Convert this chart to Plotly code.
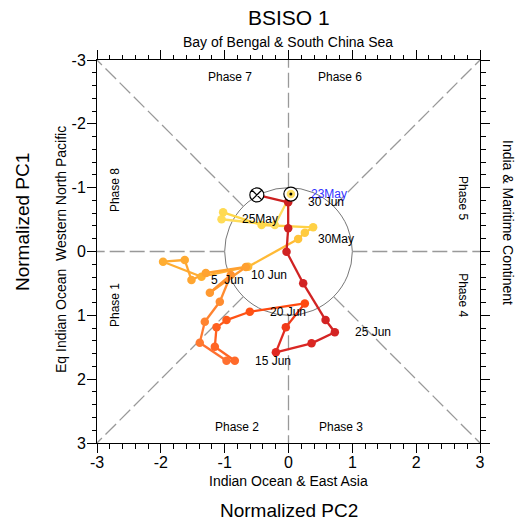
import plotly.graph_objects as go

# ---------------- data ----------------
pc2 = [0.037, -0.214, -1.049, -1.024, -0.422, 0.386, 0.256, 0.151, -0.632, -1.363,
       -1.965, -1.625, -1.520, -1.295, -0.668, -1.232, -0.904, -1.076, -1.311, -1.390,
       -0.971, -0.841, -1.154, -1.128, -0.971, -0.606, 0.256, -0.042, -0.198, 0.361,
       0.726, 0.581, 0.230, -0.031, -0.005, -0.005, -0.496]
pc1 = [-0.900, -0.415, -0.505, -0.614, -0.415, -0.379, -0.295, -0.196, 0.238, 0.395,
       0.160, 0.133, 0.447, 0.337, 0.243, 0.646, 0.368, 0.787, 1.100, 1.429,
       1.712, 1.712, 1.492, 1.188, 1.074, 0.944, 0.813, 1.188, 1.580, 1.439,
       1.266, 1.074, 0.498, 0.003, -0.364, -0.771, -0.886]

date_labels = ["23May", "25May", "30May", "5\u00a0\u00a0Jun", "10 Jun", "15 Jun", "20 Jun", "25 Jun", "30 Jun"]
date_index = [0, 2, 7, 12, 16, 21, 25, 30, 35]

tick_vals = [-3, -2, -1, 0, 1, 2, 3]
tick_text = ["-3", "-2", "-1", "0", "1", "2", "3"]

phase_names = ["Phase 1", "Phase 2", "Phase 3", "Phase 4", "Phase 5", "Phase 6", "Phase 7", "Phase 8"]
phase_x = [-2.72, -0.80, 0.82, 2.73, 2.73, 0.81, -0.92, -2.72]
phase_y = [0.84, 2.75, 2.75, 0.68, -0.84, -2.73, -2.73, -0.96]
phase_angle = [-90, 0, 0, 90, 90, 0, 0, -90]

# colour ramp anchors (index -> colour)
ramp_idx = [0, 4, 7, 9, 14, 17, 20, 24, 26, 28, 30, 36]
ramp_col = ["#FFE066", "#FFD84A", "#FFC43A", "#FFB032", "#FFA030", "#FF8C30",
            "#FF7030", "#FF5A1A", "#FF4A10", "#E02A22", "#D42424", "#CC2020"]


def hex2rgb(h):
    h = h.lstrip("#")
    return [int(h[i:i + 2], 16) for i in (0, 2, 4)]


def colour_at(i):
    for k in range(len(ramp_idx) - 1):
        a, b = ramp_idx[k], ramp_idx[k + 1]
        if a <= i <= b:
            t = (i - a) / (b - a) if b > a else 0
            ca, cb = hex2rgb(ramp_col[k]), hex2rgb(ramp_col[k + 1])
            c = [round(ca[j] + (cb[j] - ca[j]) * t) for j in range(3)]
            return "rgb(%d,%d,%d)" % tuple(c)
    return ramp_col[-1]


n = len(pc2)
cols = [colour_at(i) for i in range(n)]

# ---------------- layout geometry ----------------
W, H = 518, 522
L, R, T, B = 97, 480, 60, 443


def px(xp):
    return (xp - L) / (R - L)


def py(yp):
    return (B - yp) / (B - T)


fig = go.Figure()

# trajectory segments
for i in range(n - 1):
    fig.add_trace(go.Scatter(x=[pc2[i], pc2[i + 1]], y=[pc1[i], pc1[i + 1]], mode="lines",
                             line=dict(color=cols[i + 1], width=2.3), showlegend=False,
                             hoverinfo="skip"))

# point markers
fig.add_trace(go.Scatter(x=pc2[1:-1], y=pc1[1:-1], mode="markers",
                         marker=dict(size=8.5, color=cols[1:-1], line=dict(width=0)),
                         showlegend=False, hoverinfo="skip"))

# start marker
fig.add_trace(go.Scatter(x=[pc2[0]], y=[pc1[0]], mode="markers",
                         marker=dict(size=14, color="white", line=dict(color="black", width=1.2)),
                         showlegend=False, hoverinfo="skip"))
fig.add_trace(go.Scatter(x=[pc2[0]], y=[pc1[0]], mode="markers",
                         marker=dict(size=8.5, color=cols[0], line=dict(width=0)),
                         showlegend=False, hoverinfo="skip"))
fig.add_trace(go.Scatter(x=[pc2[0]], y=[pc1[0]], mode="markers",
                         marker=dict(size=3, color="black", line=dict(width=0)),
                         showlegend=False, hoverinfo="skip"))
# end marker
fig.add_trace(go.Scatter(x=[pc2[-1]], y=[pc1[-1]], mode="markers",
                         marker=dict(size=14, symbol="circle-x", color="white",
                                     line=dict(color="black", width=1.2)),
                         showlegend=False, hoverinfo="skip"))

shapes = []
# unit circle
shapes.append(dict(type="circle", xref="x", yref="y", x0=-1, x1=1, y0=-1, y1=1,
                   line=dict(color="#777777", width=1), layer="below"))
# dashed phase dividers
d = 0.7071
for (x0, y0, x1, y1) in [(1, 0, 3, 0), (-1, 0, -3, 0), (0, 1, 0, 3), (0, -1, 0, -3),
                         (d, d, 3, 3), (-d, -d, -3, -3), (d, -d, 3, -3), (-d, d, -3, 3)]:
    shapes.append(dict(type="line", xref="x", yref="y", x0=x0, y0=y0, x1=x1, y1=y1,
                       line=dict(color="#999999", width=1.3, dash="15px,5px"), layer="below"))

ann = []
FONT = "Liberation Sans, Arial, Helvetica, sans-serif"
# date labels
for lab, idx in zip(date_labels, date_index):
    ann.append(dict(x=pc2[idx], y=pc1[idx], xref="x", yref="y", text=lab, showarrow=False,
                    xanchor="left", yanchor="middle", xshift=18,
                    font=dict(size=12, color="#3333ff" if idx == 0 else "black", family=FONT)))
# phase labels
for name, xx, yy, ang in zip(phase_names, phase_x, phase_y, phase_angle):
    ann.append(dict(x=xx, y=yy, xref="x", yref="y", text=name, showarrow=False,
                    textangle=ang, xanchor="center", yanchor="middle",
                    font=dict(size=12, color="black", family=FONT)))


# titles and region labels (positions given in reference-picture pixels)
def txt(text, xp, yp, size, angle=0):
    ann.append(dict(x=px(xp), y=py(yp), xref="paper", yref="paper", text=text,
                    showarrow=False, textangle=angle, xanchor="center", yanchor="middle",
                    font=dict(size=size, color="black", family=FONT)))


txt("BSISO 1", 289, 17, 21)
txt("Bay of Bengal & South China Sea", 288, 42, 14)
txt("Indian Ocean & East Asia", 288, 481, 14)
txt("Normalized PC2", 289, 510, 19)
txt("Normalized PC1", 22, 222, 19, -90)
txt("Eq Indian Ocean\u00a0\u00a0Western North Pacific", 61, 250, 14, -90)
txt("India & Maritime Continent", 508, 223, 14, 90)

axis_common = dict(showgrid=False, zeroline=False, showline=True, linecolor="black",
                   linewidth=1, mirror="ticks", ticks="outside", ticklen=9, tickwidth=1,
                   tickcolor="black", tickvals=tick_vals, ticktext=tick_text,
                   tickfont=dict(size=16, color="black", family=FONT),
                   minor=dict(dtick=0.2, tick0=0, ticks="outside", ticklen=4.5,
                              tickwidth=1, tickcolor="black"))

fig.update_layout(
    width=W, height=H,
    margin=dict(l=L, r=W - R, t=T, b=H - B, pad=0),
    paper_bgcolor="white", plot_bgcolor="white",
    xaxis=dict(range=[-3, 3], ticklabelstandoff=-4, **axis_common),
    yaxis=dict(range=[3, -3], ticklabelstandoff=-2, **axis_common),
    shapes=shapes, annotations=ann, showlegend=False,
    font=dict(family=FONT),
)

fig.write_html("out.html", config={"displayModeBar": False, "staticPlot": True},
               post_script="document.body.style.margin='0';document.body.style.overflow='hidden';")
